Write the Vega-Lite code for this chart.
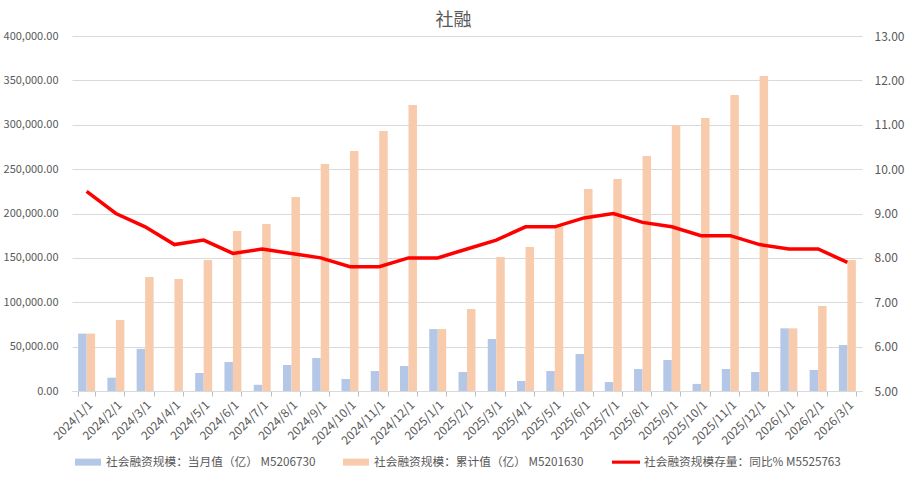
{
  "$schema": "https://vega.github.io/schema/vega-lite/v6.json",
  "autosize": {"type": "none"},
  "width": 790,
  "height": 355,
  "padding": {"left": 72, "top": 36, "right": 46, "bottom": 89},
  "background": "white",
  "title": {"text": "社融", "font": "Noto Sans CJK SC", "fontSize": 18, "fontWeight": "normal", "color": "#595959", "anchor": "middle", "frame": "bounds", "offset": 0},
  "config": {
    "view": {"stroke": null},
    "axis": {"labelFont": "Noto Sans CJK SC", "labelFontSize": 12, "labelColor": "#595959", "title": null}
  },
  "datasets": {
    "bars": [
      {"date": "2024/1/1", "series": "社会融资规模：当月值（亿） M5206730", "value": 64700},
      {"date": "2024/1/1", "series": "社会融资规模：累计值（亿） M5201630", "value": 64700},
      {"date": "2024/2/1", "series": "社会融资规模：当月值（亿） M5206730", "value": 15000},
      {"date": "2024/2/1", "series": "社会融资规模：累计值（亿） M5201630", "value": 80000},
      {"date": "2024/3/1", "series": "社会融资规模：当月值（亿） M5206730", "value": 47500},
      {"date": "2024/3/1", "series": "社会融资规模：累计值（亿） M5201630", "value": 128500},
      {"date": "2024/4/1", "series": "社会融资规模：当月值（亿） M5206730", "value": 0},
      {"date": "2024/4/1", "series": "社会融资规模：累计值（亿） M5201630", "value": 126200},
      {"date": "2024/5/1", "series": "社会融资规模：当月值（亿） M5206730", "value": 20300},
      {"date": "2024/5/1", "series": "社会融资规模：累计值（亿） M5201630", "value": 147600},
      {"date": "2024/6/1", "series": "社会融资规模：当月值（亿） M5206730", "value": 32700},
      {"date": "2024/6/1", "series": "社会融资规模：累计值（亿） M5201630", "value": 180300},
      {"date": "2024/7/1", "series": "社会融资规模：当月值（亿） M5206730", "value": 7000},
      {"date": "2024/7/1", "series": "社会融资规模：累计值（亿） M5201630", "value": 188200},
      {"date": "2024/8/1", "series": "社会融资规模：当月值（亿） M5206730", "value": 29300},
      {"date": "2024/8/1", "series": "社会融资规模：累计值（亿） M5201630", "value": 218600},
      {"date": "2024/9/1", "series": "社会融资规模：当月值（亿） M5206730", "value": 37200},
      {"date": "2024/9/1", "series": "社会融资规模：累计值（亿） M5201630", "value": 255800},
      {"date": "2024/10/1", "series": "社会融资规模：当月值（亿） M5206730", "value": 13500},
      {"date": "2024/10/1", "series": "社会融资规模：累计值（亿） M5201630", "value": 270400},
      {"date": "2024/11/1", "series": "社会融资规模：当月值（亿） M5206730", "value": 22500},
      {"date": "2024/11/1", "series": "社会融资规模：累计值（亿） M5201630", "value": 292900},
      {"date": "2024/12/1", "series": "社会融资规模：当月值（亿） M5206730", "value": 28200},
      {"date": "2024/12/1", "series": "社会融资规模：累计值（亿） M5201630", "value": 322300},
      {"date": "2025/1/1", "series": "社会融资规模：当月值（亿） M5206730", "value": 69800},
      {"date": "2025/1/1", "series": "社会融资规模：累计值（亿） M5201630", "value": 69800},
      {"date": "2025/2/1", "series": "社会融资规模：当月值（亿） M5206730", "value": 21400},
      {"date": "2025/2/1", "series": "社会融资规模：累计值（亿） M5201630", "value": 92400},
      {"date": "2025/3/1", "series": "社会融资规模：当月值（亿） M5206730", "value": 58600},
      {"date": "2025/3/1", "series": "社会融资规模：累计值（亿） M5201630", "value": 151000},
      {"date": "2025/4/1", "series": "社会融资规模：当月值（亿） M5206730", "value": 11300},
      {"date": "2025/4/1", "series": "社会融资规模：累计值（亿） M5201630", "value": 162300},
      {"date": "2025/5/1", "series": "社会融资规模：当月值（亿） M5206730", "value": 22500},
      {"date": "2025/5/1", "series": "社会融资规模：累计值（亿） M5201630", "value": 185200},
      {"date": "2025/6/1", "series": "社会融资规模：当月值（亿） M5206730", "value": 41700},
      {"date": "2025/6/1", "series": "社会融资规模：累计值（亿） M5201630", "value": 227600},
      {"date": "2025/7/1", "series": "社会融资规模：当月值（亿） M5206730", "value": 10100},
      {"date": "2025/7/1", "series": "社会融资规模：累计值（亿） M5201630", "value": 238900},
      {"date": "2025/8/1", "series": "社会融资规模：当月值（亿） M5206730", "value": 24800},
      {"date": "2025/8/1", "series": "社会融资规模：累计值（亿） M5201630", "value": 264800},
      {"date": "2025/9/1", "series": "社会融资规模：当月值（亿） M5206730", "value": 34900},
      {"date": "2025/9/1", "series": "社会融资规模：累计值（亿） M5201630", "value": 299400},
      {"date": "2025/10/1", "series": "社会融资规模：当月值（亿） M5206730", "value": 8000},
      {"date": "2025/10/1", "series": "社会融资规模：累计值（亿） M5201630", "value": 307600},
      {"date": "2025/11/1", "series": "社会融资规模：当月值（亿） M5206730", "value": 24800},
      {"date": "2025/11/1", "series": "社会融资规模：累计值（亿） M5201630", "value": 333500},
      {"date": "2025/12/1", "series": "社会融资规模：当月值（亿） M5206730", "value": 21400},
      {"date": "2025/12/1", "series": "社会融资规模：累计值（亿） M5201630", "value": 354900},
      {"date": "2026/1/1", "series": "社会融资规模：当月值（亿） M5206730", "value": 70600},
      {"date": "2026/1/1", "series": "社会融资规模：累计值（亿） M5201630", "value": 70600},
      {"date": "2026/2/1", "series": "社会融资规模：当月值（亿） M5206730", "value": 23700},
      {"date": "2026/2/1", "series": "社会融资规模：累计值（亿） M5201630", "value": 95800},
      {"date": "2026/3/1", "series": "社会融资规模：当月值（亿） M5206730", "value": 51800},
      {"date": "2026/3/1", "series": "社会融资规模：累计值（亿） M5201630", "value": 147600}
    ],
    "yoy": [
      {"date": "2024/1/1", "series": "社会融资规模存量：同比% M5525763", "value": 9.5},
      {"date": "2024/2/1", "series": "社会融资规模存量：同比% M5525763", "value": 9.0},
      {"date": "2024/3/1", "series": "社会融资规模存量：同比% M5525763", "value": 8.7},
      {"date": "2024/4/1", "series": "社会融资规模存量：同比% M5525763", "value": 8.3},
      {"date": "2024/5/1", "series": "社会融资规模存量：同比% M5525763", "value": 8.4},
      {"date": "2024/6/1", "series": "社会融资规模存量：同比% M5525763", "value": 8.1},
      {"date": "2024/7/1", "series": "社会融资规模存量：同比% M5525763", "value": 8.2},
      {"date": "2024/8/1", "series": "社会融资规模存量：同比% M5525763", "value": 8.1},
      {"date": "2024/9/1", "series": "社会融资规模存量：同比% M5525763", "value": 8.0},
      {"date": "2024/10/1", "series": "社会融资规模存量：同比% M5525763", "value": 7.8},
      {"date": "2024/11/1", "series": "社会融资规模存量：同比% M5525763", "value": 7.8},
      {"date": "2024/12/1", "series": "社会融资规模存量：同比% M5525763", "value": 8.0},
      {"date": "2025/1/1", "series": "社会融资规模存量：同比% M5525763", "value": 8.0},
      {"date": "2025/2/1", "series": "社会融资规模存量：同比% M5525763", "value": 8.2},
      {"date": "2025/3/1", "series": "社会融资规模存量：同比% M5525763", "value": 8.4},
      {"date": "2025/4/1", "series": "社会融资规模存量：同比% M5525763", "value": 8.7},
      {"date": "2025/5/1", "series": "社会融资规模存量：同比% M5525763", "value": 8.7},
      {"date": "2025/6/1", "series": "社会融资规模存量：同比% M5525763", "value": 8.9},
      {"date": "2025/7/1", "series": "社会融资规模存量：同比% M5525763", "value": 9.0},
      {"date": "2025/8/1", "series": "社会融资规模存量：同比% M5525763", "value": 8.8},
      {"date": "2025/9/1", "series": "社会融资规模存量：同比% M5525763", "value": 8.7},
      {"date": "2025/10/1", "series": "社会融资规模存量：同比% M5525763", "value": 8.5},
      {"date": "2025/11/1", "series": "社会融资规模存量：同比% M5525763", "value": 8.5},
      {"date": "2025/12/1", "series": "社会融资规模存量：同比% M5525763", "value": 8.3},
      {"date": "2026/1/1", "series": "社会融资规模存量：同比% M5525763", "value": 8.2},
      {"date": "2026/2/1", "series": "社会融资规模存量：同比% M5525763", "value": 8.2},
      {"date": "2026/3/1", "series": "社会融资规模存量：同比% M5525763", "value": 7.9}
    ]
  },
  "layer": [
    {
      "data": {"name": "bars"},
      "mark": {"type": "bar"},
      "encoding": {
        "x": {
          "field": "date", "type": "nominal", "sort": null,
          "scale": {"paddingInner": 0.42, "paddingOuter": 0.21},
          "axis": {"labelAngle": -45, "tickBand": "extent", "tickSize": 5, "tickColor": "#bfbfbf", "domainColor": "#d9d9d9", "labelPadding": 3, "grid": false}
        },
        "xOffset": {"field": "series", "type": "nominal", "sort": null, "scale": {"paddingInner": 0, "paddingOuter": 0}},
        "y": {
          "field": "value", "type": "quantitative",
          "scale": {"domain": [0, 400000], "nice": false},
          "axis": {"values": [0, 50000, 100000, 150000, 200000, 250000, 300000, 350000, 400000], "format": ",.2f", "domain": false, "ticks": false, "gridColor": "#d9d9d9", "labelPadding": 14, "labelFontSize": 11}
        },
        "color": {
          "field": "series", "type": "nominal",
          "scale": {
            "domain": ["社会融资规模：当月值（亿） M5206730", "社会融资规模：累计值（亿） M5201630", "社会融资规模存量：同比% M5525763"],
            "range": ["#b4c7e7", "#f8cbad", "#ff0000"]
          },
          "legend": {
            "title": null, "orient": "none", "legendX": 3, "legendY": 413, "direction": "horizontal", "columns": 3, "columnPadding": 27,
            "labelFont": "Noto Sans CJK SC", "labelFontSize": 11.7, "labelColor": "#595959", "labelLimit": 400, "symbolSize": 676, "labelOffset": 5,
            "encode": {"symbols": {"update": {
              "shape": {"signal": "indexof(datum.value, '同比') >= 0 ? 'M-1.08,-0.12H1.08V0.12H-1.08Z' : 'M-1,-0.27H1V0.27H-1Z'"},
              "fill": {"scale": "color", "field": "value"},
              "stroke": {"value": "transparent"},
              "strokeWidth": {"value": 0},
              "opacity": {"value": 1}
            }}}
          }
        }
      }
    },
    {
      "data": {"name": "yoy"},
      "mark": {"type": "line", "strokeWidth": 3.5},
      "encoding": {
        "x": {"field": "date", "type": "nominal", "sort": null},
        "y": {
          "field": "value", "type": "quantitative",
          "scale": {"domain": [5, 13], "nice": false},
          "axis": {"orient": "right", "values": [5, 6, 7, 8, 9, 10, 11, 12, 13], "format": ".2f", "domain": false, "ticks": false, "grid": false, "labelPadding": 12}
        },
        "color": {"field": "series", "type": "nominal"}
      }
    }
  ],
  "resolve": {"scale": {"y": "independent"}}
}
